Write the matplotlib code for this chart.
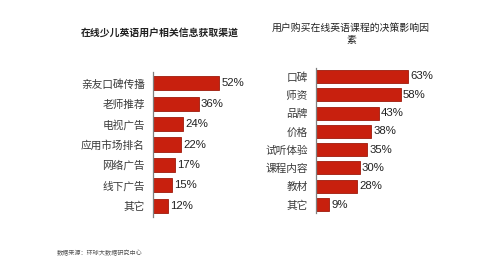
import matplotlib
matplotlib.use("Agg")
import matplotlib.pyplot as plt

plt.rcParams['font.family'] = ['Noto Sans CJK SC', 'DejaVu Sans']

left_title = "在线少儿英语用户相关信息获取渠道"
left_cats = ["亲友口碑传播", "老师推荐", "电视广告", "应用市场排名", "网络广告", "线下广告", "其它"]
left_vals = [52, 36, 24, 22, 17, 15, 12]

right_title = "用户购买在线英语课程的决策影响因\n素"
right_cats = ["口碑", "师资", "品牌", "价格", "试听体验", "课程内容", "教材", "其它"]
right_vals = [63, 58, 43, 38, 35, 30, 28, 9]

source = "数据来源：环球大数据研究中心"

W, H = 500, 275
fig = plt.figure(figsize=(W / 100, H / 100), dpi=100)
fig.patch.set_facecolor("white")

BAR = "#c8200e"
EDGE = "#9e1a0c"


def make_axes(x0, ytop, ybot, width_px):
    return fig.add_axes([x0 / W, 1 - ybot / H, width_px / W, (ybot - ytop) / H])


def draw(ax, cats, vals, px_per_unit, width_px, pad, bh):
    n = len(cats)
    ypos = list(range(n))
    ax.barh(ypos, vals, height=bh, color=BAR, edgecolor=EDGE, linewidth=0.6)
    ax.set_xlim(0, width_px / px_per_unit)
    ax.set_ylim(n - 1 + pad, -pad)
    ax.set_yticks(ypos)
    ax.set_yticklabels(cats, fontsize=7.7, color="#3a3a3a")
    ax.tick_params(axis="y", length=0, pad=6)
    ax.set_xticks([])
    for s in ["top", "right", "bottom"]:
        ax.spines[s].set_visible(False)
    ax.spines["left"].set_color("#7f7f7f")
    ax.spines["left"].set_linewidth(0.9)
    ax.patch.set_alpha(0)
    for y, v in zip(ypos, vals):
        ax.annotate(f"{v}%", xy=(v, y), xytext=(1.5, 0), textcoords="offset points",
                    va="center", ha="left", fontsize=8.2, color="#222222",
                    family="Liberation Sans")


axL = make_axes(153, 72, 217, 100)
draw(axL, left_cats, left_vals, 1.27, 100, 0.55, 0.69)

axR = make_axes(316, 68, 213, 130)
draw(axR, right_cats, right_vals, 1.46, 130, 0.46, 0.71)

fig.text(160 / W, 1 - 33 / H, left_title, ha="center", va="center",
         fontsize=7.1, fontweight="bold", color="#222222")
fig.text(351 / W, 1 - 34 / H, right_title, ha="center", va="center",
         fontsize=7.1, color="#222222", linespacing=1.3)
fig.text(57 / W, 1 - 253 / H, source, ha="left", va="center",
         fontsize=4.4, color="#555555")

fig.savefig("out.png", dpi=100, facecolor="white")
